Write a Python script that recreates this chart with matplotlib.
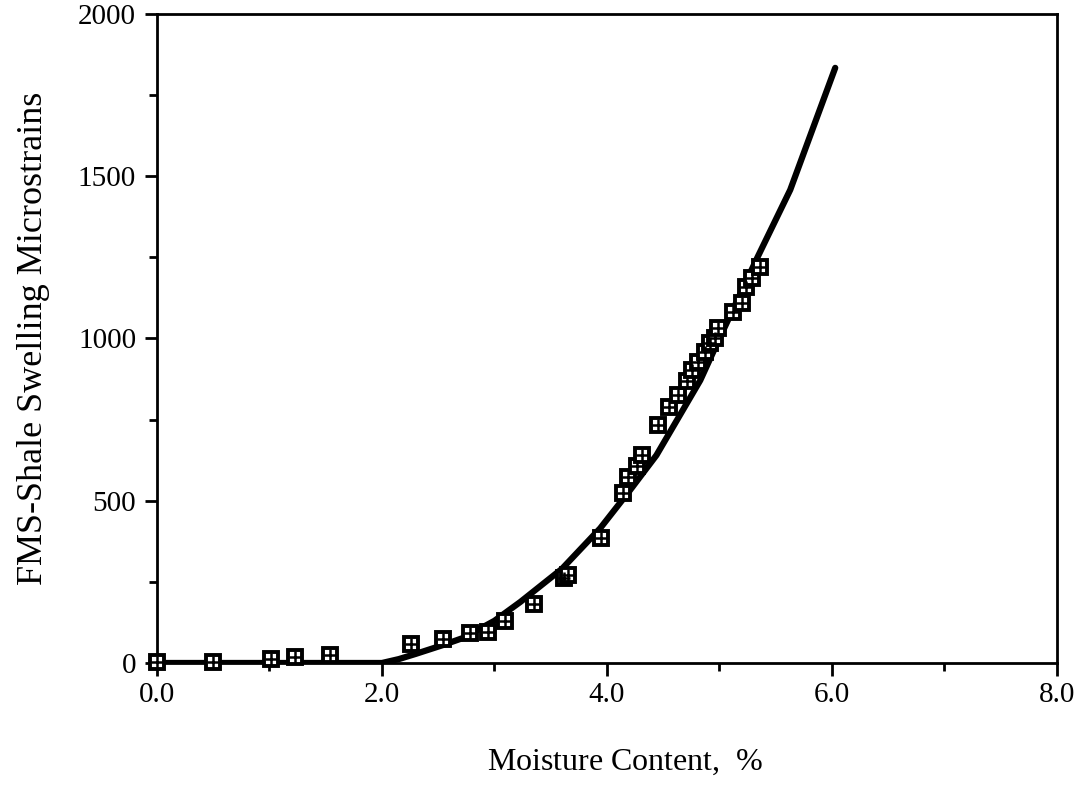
import numpy as np
import matplotlib.pyplot as plt
from matplotlib.ticker import MultipleLocator, FormatStrFormatter

# measured swelling points (moisture %, microstrains)
moist_pts = [0.0, 0.5, 1.01, 1.23, 1.54, 2.26, 2.54, 2.78, 2.94, 3.09, 3.35, 3.62, 3.65,
             3.95, 4.14, 4.19, 4.27, 4.31, 4.45, 4.55, 4.63, 4.71, 4.76, 4.81, 4.87,
             4.92, 4.96, 4.99, 5.12, 5.2, 5.24, 5.29, 5.36]
strain_pts = [3, 3, 12, 18, 25, 58, 75, 92, 96, 130, 182, 262, 271,
              385, 524, 572, 607, 641, 733, 789, 826, 870, 903, 928, 958,
              986, 1000, 1032, 1082, 1109, 1159, 1186, 1220]

# fitted curve
moist_fit = [0.0, 2.0, 2.15, 2.3, 2.54, 2.72, 3.0, 3.23, 3.6, 3.94, 4.2, 4.44, 4.83,
             5.0, 5.34, 5.63, 5.8, 6.03]
strain_fit = [0, 0, 12, 28, 55, 77, 130, 188, 290, 415, 530, 640, 871,
              1000, 1251, 1458, 1618, 1834]

plt.rcParams['font.family'] = ['Liberation Serif', 'DejaVu Serif']
plt.rcParams['mathtext.fontset'] = 'custom'
plt.rcParams['mathtext.rm'] = 'Liberation Serif'
plt.rcParams['mathtext.it'] = 'Liberation Serif:italic'

fig = plt.figure(figsize=(10.85, 7.86), dpi=100)
ax = fig.add_axes([0.1447, 0.1565, 0.8293, 0.8257])

ax.plot(moist_fit, strain_fit, color='black', lw=4.5, solid_capstyle='round',
        solid_joinstyle='round', zorder=3)
ax.plot(moist_pts, strain_pts, ls='none', marker='s', ms=9.5, mfc='white', mec='black',
        mew=2.8, clip_on=False, zorder=4)
ax.plot(moist_pts, strain_pts, ls='none', marker='+', ms=8, mec='black',
        mew=1.8, clip_on=False, zorder=5)

ax.set_xlim(0, 8)
ax.set_ylim(0, 2000)
ax.xaxis.set_major_locator(MultipleLocator(2))
ax.xaxis.set_minor_locator(MultipleLocator(1))
ax.xaxis.set_major_formatter(FormatStrFormatter('%.1f'))
ax.yaxis.set_major_locator(MultipleLocator(500))
ax.yaxis.set_minor_locator(MultipleLocator(250))

for s in ax.spines.values():
    s.set_linewidth(2)
ax.tick_params(which='major', direction='out', length=9, width=2, labelsize=21, pad=6)
ax.tick_params(axis='x', which='major', pad=5)
ax.tick_params(which='minor', direction='out', length=6, width=2)

ax.set_xlabel(r'Moisture Content,  $\it{\%}$', fontsize=23)
ax.xaxis.set_label_coords(0.52, -0.13)
ax.set_ylabel('FMS-Shale Swelling Microstrains', fontsize=26, labelpad=20)

fig.savefig('out.png', dpi=100)
